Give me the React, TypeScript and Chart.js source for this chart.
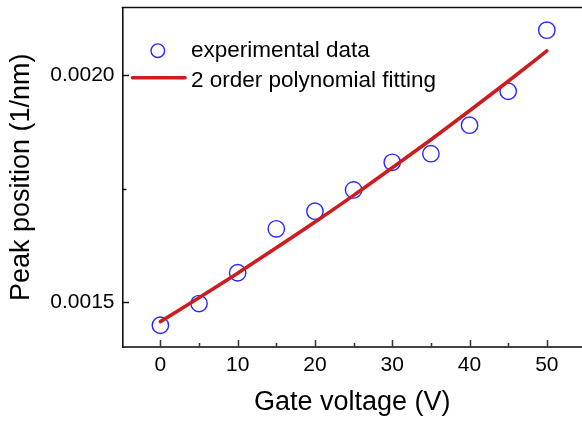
import React, { useEffect, useRef } from 'react';
import { Chart, registerables } from 'chart.js';

Chart.register(...registerables);

// ---- data ----
const gateVoltage = [0, 5, 10, 15, 20, 25, 30, 35, 40, 45, 50];
const peakPosition = [0.001448, 0.001496, 0.001564, 0.001661, 0.0017, 0.001747, 0.001808, 0.001827, 0.00189, 0.001965, 0.0021];
const fitVoltage = [0, 5, 10, 15, 20, 25, 30, 35, 40, 45, 50];
const fitPeak = [0.001456, 0.001509, 0.001563, 0.001619, 0.001676, 0.001735, 0.001796, 0.001858, 0.001922, 0.001987, 0.002054];
const xMajorTicks = [0, 10, 20, 30, 40, 50];
const xMinorTicks = [5, 15, 25, 35, 45];
const yMajorTicks = [0.0015, 0.002];
const yMinorTicks = [0.00175];
const seriesLabels = ['experimental data', '2 order polynomial fitting'];
const xTitle = 'Gate voltage (V)';
const yTitle = 'Peak position (1/nm)';

const FONT = "'Liberation Sans', Arial, Helvetica, sans-serif";
const BLUE = 'rgb(40,40,255)';
const RED = 'rgb(204,28,30)';

const decorPlugin = {
  id: 'decor',
  afterDraw(chart: any) {
    const { ctx, chartArea: a, scales } = chart;
    const x = scales.x;
    const y = scales.y;
    ctx.save();
    // top frame line
    ctx.strokeStyle = '#111';
    ctx.lineWidth = 1.6;
    ctx.beginPath();
    ctx.moveTo(a.left - 0.8, a.top);
    ctx.lineTo(a.right, a.top);
    ctx.stroke();

    // inward ticks
    const seg = (x1: number, y1: number, x2: number, y2: number) => {
      ctx.beginPath();
      ctx.moveTo(x1, y1);
      ctx.lineTo(x2, y2);
      ctx.stroke();
    };
    ctx.strokeStyle = '#333';
    ctx.lineWidth = 1.5;
    xMajorTicks.forEach((v) => {
      const px = Math.round(x.getPixelForValue(v)) + 0.5;
      seg(px, a.bottom, px, a.bottom - 7);
    });
    xMinorTicks.forEach((v) => {
      const px = Math.round(x.getPixelForValue(v)) + 0.5;
      seg(px, a.bottom, px, a.bottom - 4);
    });
    ctx.strokeStyle = '#111';
    yMajorTicks.forEach((v) => {
      const py = Math.round(y.getPixelForValue(v)) + 0.5;
      seg(a.left, py, a.left + 6.5, py);
    });
    yMinorTicks.forEach((v) => {
      const py = Math.round(y.getPixelForValue(v)) + 0.5;
      seg(a.left, py, a.left + 4, py);
    });

    // legend
    const ds = chart.data.datasets;
    const lx = a.left;
    const ly = a.top;
    ctx.font = `22.5px ${FONT}`;
    ctx.fillStyle = '#000';
    ctx.textBaseline = 'alphabetic';
    ctx.textAlign = 'left';
    // circle symbol
    ctx.strokeStyle = ds[0].borderColor;
    ctx.lineWidth = 1.4;
    ctx.beginPath();
    ctx.arc(lx + 35.3, ly + 43.2, 6.8, 0, Math.PI * 2);
    ctx.stroke();
    ctx.fillText(ds[0].label, lx + 68.5, ly + 49.8);
    // line symbol
    ctx.strokeStyle = ds[1].borderColor;
    ctx.lineWidth = 3.6;
    ctx.lineCap = 'round';
    ctx.beginPath();
    ctx.moveTo(lx + 10, ly + 70.2);
    ctx.lineTo(lx + 62.5, ly + 70.2);
    ctx.stroke();
    ctx.fillText(ds[1].label, lx + 68.5, ly + 79.8);
    ctx.restore();
  },
};

export default function App() {
  const ref = useRef<HTMLCanvasElement | null>(null);

  useEffect(() => {
    const canvas = ref.current;
    if (!canvas) return;
    const chart = new Chart(canvas, {
      type: 'scatter',
      data: {
        datasets: [
          {
            label: seriesLabels[0],
            data: gateVoltage.map((v, i) => ({ x: v, y: peakPosition[i] })),
            showLine: false,
            borderColor: BLUE,
            backgroundColor: 'rgba(0,0,0,0)',
            borderWidth: 1.4,
            pointRadius: 8.2,
            pointStyle: 'circle',
            order: 1,
          } as any,
          {
            label: seriesLabels[1],
            data: fitVoltage.map((v, i) => ({ x: v, y: fitPeak[i] })),
            showLine: true,
            borderColor: RED,
            backgroundColor: RED,
            borderWidth: 3.6,
            borderCapStyle: 'round',
            pointRadius: 0,
            cubicInterpolationMode: 'monotone',
            order: 0,
          } as any,
        ],
      },
      options: {
        animation: false,
        responsive: false,
        maintainAspectRatio: false,
        devicePixelRatio: 1,
        layout: { padding: { left: 0, right: 0, top: 7.5, bottom: 0 }, autoPadding: false },
        plugins: {
          legend: { display: false },
          tooltip: { enabled: false },
        },
        scales: {
          x: {
            type: 'linear',
            min: -4.9,
            max: 54.55,
            afterFit: (s: any) => {
              s.height = 76;
              s.paddingLeft = 0;
              s.paddingRight = 0;
            },
            afterBuildTicks: (s: any) => {
              s.ticks = xMajorTicks.map((v) => ({ value: v }));
            },
            grid: { display: false, drawTicks: false },
            border: { display: true, color: '#444', width: 2 },
            ticks: {
              padding: 6,
              color: '#000',
              font: { family: FONT, size: 21 },
              maxRotation: 0,
              autoSkip: false,
              callback: (v: any) => String(v),
            },
            title: {
              display: true,
              text: xTitle,
              color: '#000',
              font: { family: FONT, size: 27 },
              padding: { top: 0, bottom: 4.5 },
            },
          },
          y: {
            type: 'linear',
            min: 0.0014,
            max: 0.00215,
            afterFit: (s: any) => {
              s.width = 122.5;
              s.paddingTop = 0;
              s.paddingBottom = 0;
            },
            afterBuildTicks: (s: any) => {
              s.ticks = yMajorTicks.map((v) => ({ value: v }));
            },
            grid: { display: false, drawTicks: false },
            border: { display: true, color: '#111', width: 1.6 },
            ticks: {
              padding: 8,
              color: '#000',
              font: { family: FONT, size: 21 },
              autoSkip: false,
              callback: (v: any) => Number(v).toFixed(4),
            },
            title: {
              display: true,
              text: yTitle,
              color: '#000',
              font: { family: FONT, size: 27 },
              padding: { top: 5, bottom: 0 },
            },
          },
        },
      },
      plugins: [decorPlugin],
    } as any);
    return () => chart.destroy();
  }, []);

  return (
    <div style={{ position: 'fixed', left: 0, top: 0, width: 582, height: 423, background: '#fff' }}>
      <canvas ref={ref} width={582} height={423} style={{ display: 'block', width: 582, height: 423 }} />
    </div>
  );
}
